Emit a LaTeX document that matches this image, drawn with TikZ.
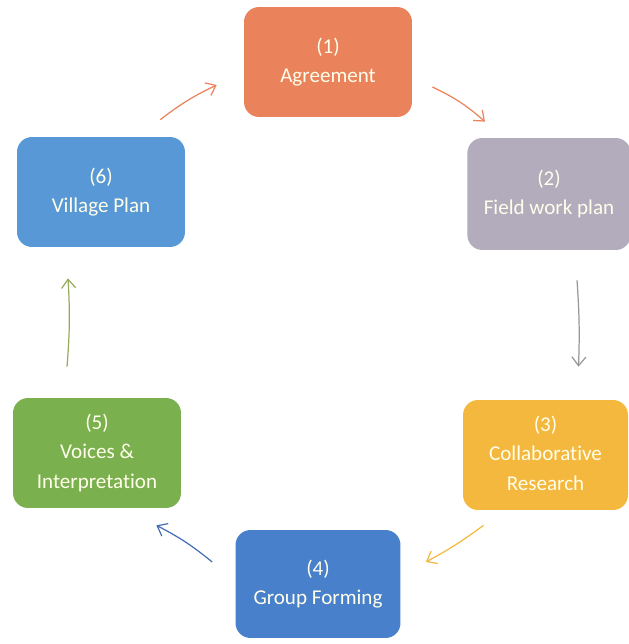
\documentclass[tikz,border=0pt]{standalone}
\usepackage{fontspec}
\setmainfont[Ligatures=NoCommon]{Carlito}
\usepackage{xcolor}
\usepackage{tikz}
\usetikzlibrary{arrows.meta, calc}
\definecolor{agree}{RGB}{234,131,92}
\definecolor{fieldgray}{RGB}{178,172,188}
\definecolor{research}{RGB}{244,184,62}
\definecolor{grouping}{RGB}{72,128,204}
\definecolor{voices}{RGB}{122,176,78}
\definecolor{village}{RGB}{88,152,214}
\definecolor{arrgray}{RGB}{150,150,155}
\definecolor{arrgreen}{RGB}{150,172,92}
\definecolor{arrblue}{RGB}{70,110,180}
\tikzset{
    phase/.style={rectangle, rounded corners=0.3cm, minimum width=3.36cm, minimum height=2.2cm, text centered, align=center, text=white!92!yellow, font=\fontsize{12}{17}\selectfont},
    flow/.style={-{Straight Barb[length=5pt, width=8pt]}, line width=0.7pt}
}

\begin{document}
\begin{tikzpicture} [
    x=0.02cm, y=-0.02cm
]
    \useasboundingbox (0,0) rectangle (628,644);

    % Stage 1: Agreement
    \node[phase, fill=agree] (agr) at (328,62) {\begin{tabular}{c}(1)\\Agreement\end{tabular}};

    % Stage 2: Field work plan
    \node[phase, fill=fieldgray, minimum width=3.16cm, minimum height=2.24cm] (fwp) at (549,194) {\begin{tabular}{c}(2)\\Field work plan\end{tabular}};

    % Stage 3: Collaborative Research
    \node[phase, fill=research, minimum width=3.3cm] (col) at (545.5,455) {\begin{tabular}{c}(3)\\Collaborative\\Research\end{tabular}};

    % Stage 4: Group Forming
    \node[phase, fill=grouping, minimum width=3.3cm, minimum height=2.16cm] (grp) at (318,584) {\begin{tabular}{c}(4)\\Group Forming\end{tabular}};

    % Stage 5: Voices & Interpretation
    \node[phase, fill=voices] (voi) at (97,453) {\begin{tabular}{c}(5)\\Voices \&\\Interpretation\end{tabular}};

    % Stage 6: Village Plan
    \node[phase, fill=village] (vill) at (101,192) {\begin{tabular}{c}(6)\\Village Plan\end{tabular}};

    % Flows
    \draw[flow, agree] ($(vill.north east)+(-25,-17)$) to[bend left=6] ($(agr.west)+(-27,23)$);
    \draw[flow, agree] ($(agr.east)+(20,25)$) to[bend left=8] ($(fwp.north west)+(18,-16)$);
    \draw[flow, arrgray] ($(fwp.south)+(28,30)$) to[bend left=3] ($(col.north)+(33,-33)$);
    \draw[flow, research] ($(col.south)+(-62,15)$) to[bend left=4] ($(grp.east)+(25,-22)$);
    \draw[flow, arrblue] ($(grp.west)+(-23,-22)$) to[bend right=6] ($(voi.south east)+(-25,17)$);
    \draw[flow, arrgreen] ($(voi.north)+(-30,-31)$) to[bend right=4] ($(vill.south)+(-33,31)$);
\end{tikzpicture}
\end{document}
